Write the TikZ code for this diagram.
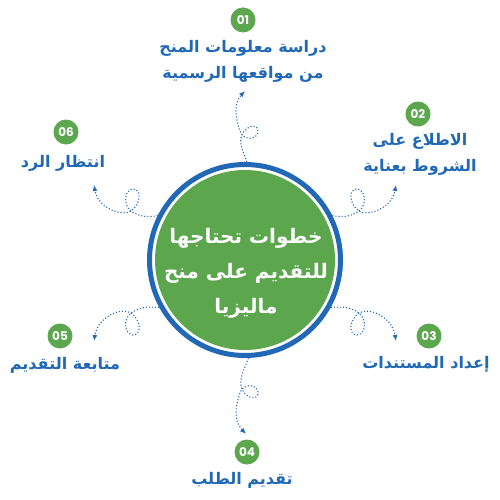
\documentclass[tikz,border=0pt]{standalone}
\usepackage{fontspec}
\usetikzlibrary{arrows.meta}
\TeXXeTstate=1
\newfontfamily\arabicfont[Script=Arabic]{DejaVu Sans}
\newfontfamily\numfont{Poppins}
\definecolor{stepblue}{HTML}{2169B6}
\definecolor{stepgreen}{HTML}{5CA64E}

\begin{document}
\begin{tikzpicture}[x=1pt, y=-1pt,
    badge/.style={circle, fill=stepgreen, minimum size=25pt, inner sep=0pt,
        text=white, font=\numfont\bfseries\fontsize{12}{14}\selectfont},
    steptext/.style={text=stepblue, align=center, inner sep=0pt,
        font=\arabicfont\bfseries\fontsize{16}{26}\selectfont},
    link/.style={stepblue, line width=1.1pt, dotted, -{Latex[length=6pt,width=5pt]}}]

    \fill[white] (0,0) rectangle (500,500);
    \useasboundingbox (0,0) rectangle (500,500);

    % centre
    \node[circle, draw=stepblue, line width=5pt, fill=white, minimum size=191pt, inner sep=0pt] (hub) at (245,260) {};
    \fill[stepgreen] (hub.center) circle (90);
    \node[text=white, align=center, inner sep=0pt, font=\arabicfont\bfseries\fontsize{20}{35}\selectfont] (title) at (246,273)
        {\beginR خطوات تحتاجها\endR\\\beginR للتقديم على منح\endR\\\beginR ماليزيا\endR};

    % steps
    \node[badge] (n1) at (243,20) {01};
    \node[badge] (n2) at (418,114) {02};
    \node[badge] (n3) at (429,336) {03};
    \node[badge] (n4) at (247,452) {04};
    \node[badge] (n5) at (60,336) {05};
    \node[badge] (n6) at (66,132) {06};

    \node[steptext] (t1) at (243,61) {\beginR دراسة معلومات المنح\endR\\\beginR من مواقعها الرسمية\endR};
    \node[steptext] (t2) at (420,154) {\beginR الاطلاع على\endR\\\beginR الشروط بعناية\endR};
    \node[steptext] (t3) at (426,364) {\beginR إعداد المستندات\endR};
    \node[steptext] (t4) at (242,480) {\beginR تقديم الطلب\endR};
    \node[steptext] (t5) at (65,365) {\beginR متابعة التقديم\endR};
    \node[steptext] (t6) at (63,163) {\beginR انتظار الرد\endR};

    \coordinate (a1) at (245,91);
    \coordinate (a2) at (396,185);
    \coordinate (a3) at (396,341);
    \coordinate (a4) at (246,434);
    \coordinate (a5) at (94,341);
    \coordinate (a6) at (94,185);

    % loops
    \draw[link] (hub.89) .. controls (244,152) and (238,144) .. (242,135)
        .. controls (246,125) and (259,123) .. (258,132)
        .. controls (257,140) and (243,141) .. (240,131)
        .. controls (237,122) and (232,105) .. (a1);
    \draw[link] (hub.27) .. controls (343,218) and (352,216) .. (359,211)
        .. controls (367,205) and (366,190) .. (357,189)
        .. controls (348,189) and (349,204) .. (359,211)
        .. controls (368,217) and (392,208) .. (a2);
    \draw[link] (hub.-29) .. controls (343,306) and (352,308) .. (359,313)
        .. controls (367,319) and (366,334) .. (357,335)
        .. controls (348,335) and (349,320) .. (359,313)
        .. controls (368,307) and (392,316) .. (a3);
    \draw[link] (hub.-88) .. controls (245,368) and (238,380) .. (242,389)
        .. controls (246,399) and (259,401) .. (258,392)
        .. controls (257,384) and (243,383) .. (240,393)
        .. controls (237,402) and (232,419) .. (a4);
    \draw[link] (hub.209) .. controls (147,306) and (138,308) .. (131,313)
        .. controls (123,319) and (124,334) .. (133,335)
        .. controls (142,335) and (141,320) .. (131,313)
        .. controls (122,307) and (98,316) .. (a5);
    \draw[link] (hub.153) .. controls (147,218) and (138,216) .. (131,211)
        .. controls (123,205) and (124,190) .. (133,189)
        .. controls (142,189) and (141,204) .. (131,211)
        .. controls (122,217) and (98,208) .. (a6);
\end{tikzpicture}
\end{document}
